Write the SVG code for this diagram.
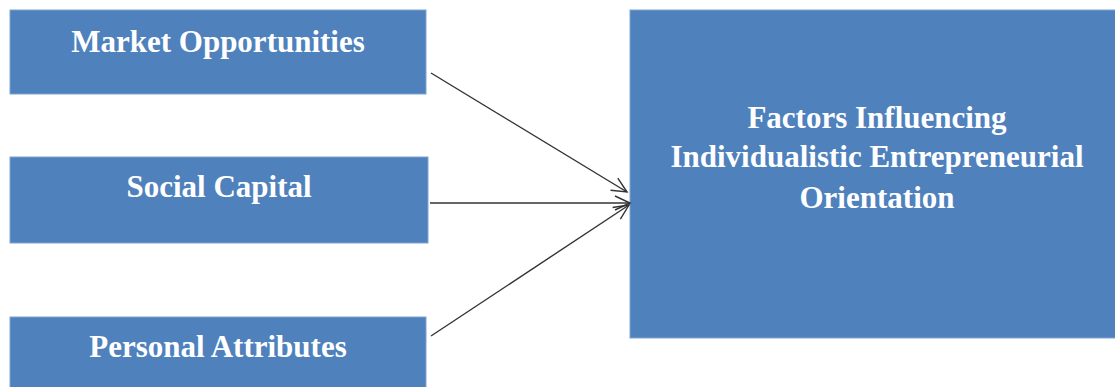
<svg xmlns="http://www.w3.org/2000/svg" width="1115" height="387" viewBox="0 0 1115 387">
<style>
.box{fill:#4F81BD;stroke:#7FA3D0;stroke-width:1}
.lbl{font-family:"Liberation Serif","Times New Roman",serif;font-weight:bold;font-size:31px;fill:#FFFFFF;text-anchor:middle}
.conn{stroke:#333333;stroke-width:1.4;fill:none}
</style>
<defs>
<marker id="arr" markerUnits="userSpaceOnUse" markerWidth="20" markerHeight="20" refX="16" refY="8" orient="auto" viewBox="0 0 20 16">
<path d="M1,1 L16,8 L1,15" fill="none" stroke="#333333" stroke-width="1.4"/>
</marker>
</defs>
<rect width="1115" height="387" fill="#FFFFFF"/>
<g id="market-opportunities">
<rect class="box" x="10" y="10" width="416" height="84"/>
<text class="lbl" x="218" y="52">Market Opportunities</text>
</g>
<g id="social-capital">
<rect class="box" x="10" y="157" width="418" height="86"/>
<text class="lbl" x="219" y="197">Social Capital</text>
</g>
<g id="personal-attributes">
<rect class="box" x="10" y="317" width="416" height="75"/>
<text class="lbl" x="218" y="357">Personal Attributes</text>
</g>
<g id="factors">
<rect class="box" x="630" y="10" width="490" height="328"/>
<text class="lbl" x="877" y="128">Factors Influencing</text>
<text class="lbl" x="877" y="167">Individualistic Entrepreneurial</text>
<text class="lbl" x="877" y="208">Orientation</text>
</g>
<g id="connectors">
<line class="conn" x1="431" y1="73" x2="627" y2="192" marker-end="url(#arr)"/>
<line class="conn" x1="430" y1="203" x2="630" y2="203" marker-end="url(#arr)"/>
<line class="conn" x1="431" y1="336" x2="629" y2="205" marker-end="url(#arr)"/>
</g>
</svg>
